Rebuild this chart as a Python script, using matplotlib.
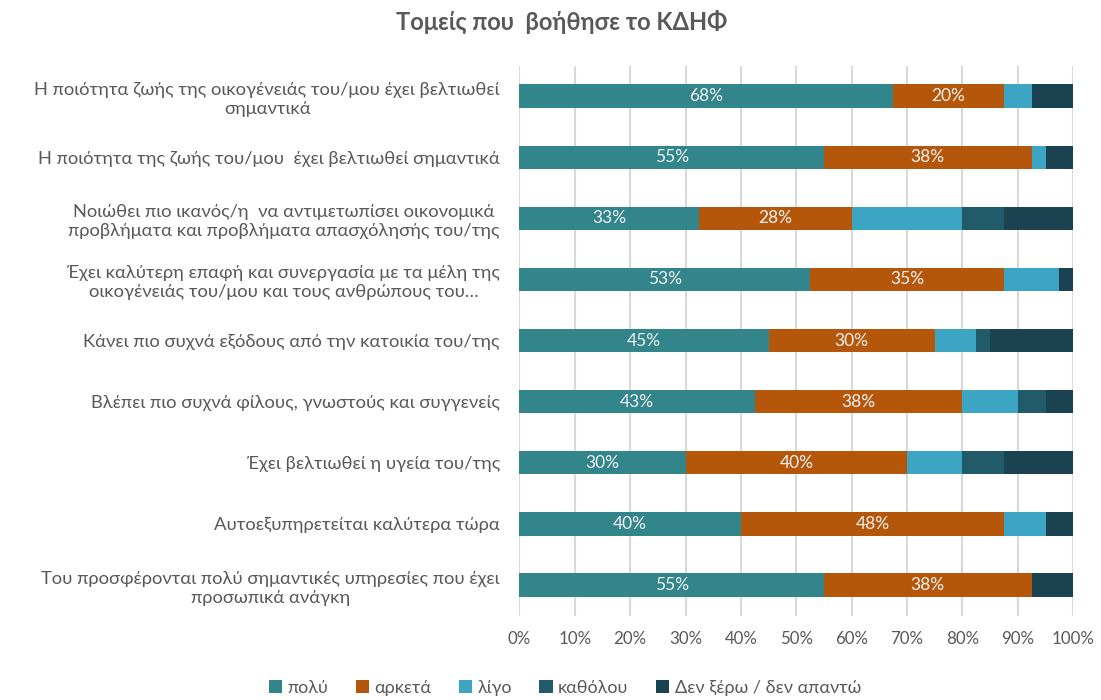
import numpy as np
import matplotlib
matplotlib.use("Agg")
import matplotlib.pyplot as plt

plt.rcParams['font.family'] = ['Lato', 'DejaVu Sans']

categories = [
    "Η ποιότητα ζωής της οικογένειάς του/μου έχει βελτιωθεί\nσημαντικά",
    "Η ποιότητα της ζωής του/μου  έχει βελτιωθεί σημαντικά",
    "Νοιώθει πιο ικανός/η  να αντιμετωπίσει οικονομικά\nπροβλήματα και προβλήματα απασχόλησής του/της",
    "Έχει καλύτερη επαφή και συνεργασία με τα μέλη της\nοικογένειάς του/μου και τους ανθρώπους του…",
    "Κάνει πιο συχνά εξόδους από την κατοικία του/της",
    "Βλέπει πιο συχνά φίλους, γνωστούς και συγγενείς",
    "Έχει βελτιωθεί η υγεία του/της",
    "Αυτοεξυπηρετείται καλύτερα τώρα",
    "Του προσφέρονται πολύ σημαντικές υπηρεσίες που έχει\nπροσωπικά ανάγκη",
]

series_names = ["πολύ", "αρκετά", "λίγο", "καθόλου", "Δεν ξέρω / δεν απαντώ"]

poly = [67.5, 55.0, 32.5, 52.5, 45.0, 42.5, 30.0, 40.0, 55.0]
arketa = [20.0, 37.5, 27.5, 35.0, 30.0, 37.5, 40.0, 47.5, 37.5]
ligo = [5.0, 2.5, 20.0, 10.0, 7.5, 10.0, 10.0, 7.5, 0.0]
katholou = [0.0, 0.0, 7.5, 0.0, 2.5, 5.0, 7.5, 0.0, 0.0]
den_xero = [7.5, 5.0, 12.5, 2.5, 15.0, 5.0, 12.5, 5.0, 7.5]

colors = ["#31858B", "#B5570A", "#3DA5C4", "#215A69", "#1B4250"]
text_grey = "#595959"

fig = plt.figure(figsize=(11.01, 7.0), dpi=100)
ax = fig.add_axes([0.4717, 0.1206, 0.5031, 0.7858])

y = np.arange(len(categories))
left = np.zeros(len(categories))
all_series = [poly, arketa, ligo, katholou, den_xero]
for i, (name, vals) in enumerate(zip(series_names, all_series)):
    vals = np.array(vals)
    bars = ax.barh(y, vals, left=left, height=0.38, color=colors[i],
                   label=name, zorder=3)
    # only the two big series carry value labels
    if i < 2:
        labels = ["%d%%" % int(v + 0.5) for v in vals]
        ax.bar_label(bars, labels=labels, label_type='center',
                     color="#F2F2F2", fontsize=12.5)
    left += vals

ax.set_xlim(0, 100)
ax.set_ylim(len(categories) - 0.5, -0.5)
ax.set_xticks(np.arange(0, 101, 10))
ax.set_xticklabels(["%d%%" % t for t in range(0, 101, 10)])
ax.set_yticks(y)
ax.set_yticklabels(categories, multialignment='center', linespacing=1.25)
ax.tick_params(axis='both', length=0, colors=text_grey)
ax.tick_params(axis='y', pad=14, labelsize=13.2)
ax.tick_params(axis='x', pad=11, labelsize=12.2)
ax.grid(axis='x', color="#D9D9D9", linewidth=1.5, zorder=0)
for s in ax.spines.values():
    s.set_visible(False)

fig.text(0.51, 0.968, "Τομείς που  βοήθησε το ΚΔΗΦ", ha='center', va='center',
         fontsize=17, fontweight='bold', color=text_grey)

fig.legend(loc='center', bbox_to_anchor=(0.513, 0.017), ncol=5, frameon=False,
           fontsize=13, labelcolor=text_grey, handlelength=0.75, handleheight=0.75,
           handletextpad=0.3, columnspacing=1.5)

fig.savefig("out.png", dpi=100)
